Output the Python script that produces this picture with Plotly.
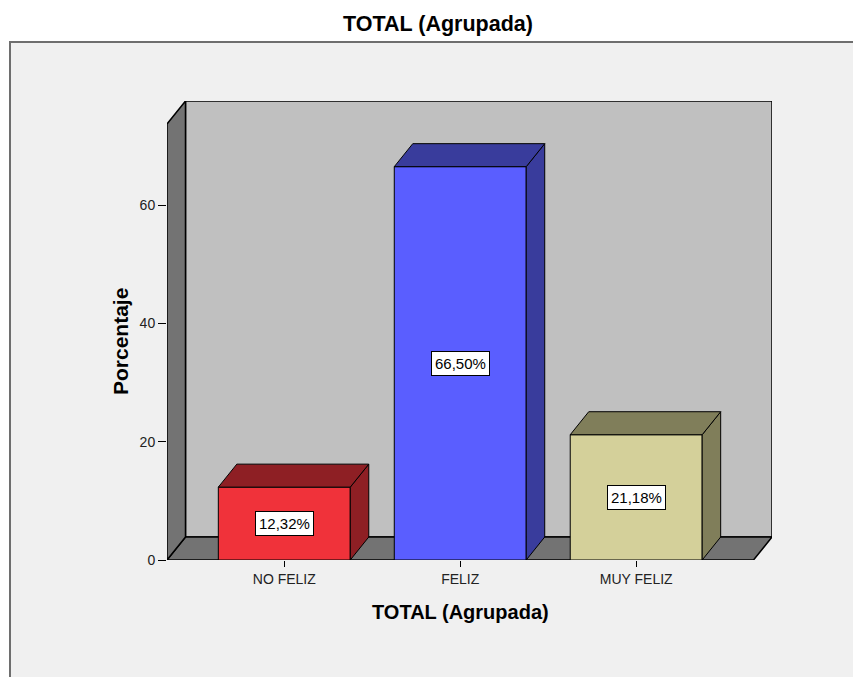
import plotly.graph_objects as go

# ---- data ----
categories = ["NO FELIZ", "FELIZ", "MUY FELIZ"]
percentages = [12.32, 66.50, 21.18]
front_colors = ["#f0323a", "#5a5eff", "#d4d09a"]
shade_colors = ["#8e1f24", "#393c9c", "#807e5a"]
y_ticks = [0, 20, 40, 60]

# ---- geometry of the pseudo-3D box (data units) ----
W, H = 853, 677
ML, MR, MT, MB = 167, 81, 101, 117
PW, PH = W - ML - MR, H - MT - MB

BAR_W = 0.75
X0, X1 = -2 / 3, 8 / 3          # front floor edge
Y_MAX = 77.6                      # top of back wall
DX = 18.5 * (X1 - X0 + 0.105) / PW  # depth offset in x units
DY = 23 * Y_MAX / PH                # depth offset in y units
X_MAX = X1 + DX
WALL_TOP = Y_MAX - DY


def px_x(p):
    return (p - ML) / PW


def px_y(p):
    return (H - MB - p) / PH


def poly_path(pts):
    return "M " + " L ".join(f"{x},{y}" for x, y in pts) + " Z"


fig = go.Figure()

# front faces of the bars
fig.add_trace(go.Bar(
    x=list(range(len(categories))), y=percentages, width=BAR_W,
    marker=dict(color=front_colors, line=dict(color="black", width=1)),
    hoverinfo="skip", showlegend=False,
))

# top and side faces of the bars
for i, v in enumerate(percentages):
    a, b = i - BAR_W / 2, i + BAR_W / 2
    top = [(a, v), (b, v), (b + DX, v + DY), (a + DX, v + DY), (a, v)]
    side = [(b, 0), (b, v), (b + DX, v + DY), (b + DX, DY), (b, 0)]
    for face in (side, top):
        fig.add_trace(go.Scatter(
            x=[p[0] for p in face], y=[p[1] for p in face],
            mode="lines", fill="toself", fillcolor=shade_colors[i],
            line=dict(color="black", width=1), hoverinfo="skip", showlegend=False,
        ))

shapes = [
    # outer chart frame
    dict(type="rect", xref="paper", yref="paper", layer="below",
         x0=px_x(10), x1=px_x(900), y0=px_y(42), y1=px_y(720),
         fillcolor="#f0f0f0", line=dict(color="#6e6e6e", width=2)),
    # back wall
    dict(type="path", xref="x", yref="y", layer="below",
         path=poly_path([(X0 + DX, DY), (X_MAX, DY), (X_MAX, Y_MAX), (X0 + DX, Y_MAX)]),
         fillcolor="#c0c0c0", line=dict(color="black", width=1.5)),
    # floor
    dict(type="path", xref="x", yref="y", layer="below",
         path=poly_path([(X0, 0), (X1, 0), (X_MAX, DY), (X0 + DX, DY)]),
         fillcolor="#737373", line=dict(color="black", width=1.5)),
    # left wall
    dict(type="path", xref="x", yref="y", layer="below",
         path=poly_path([(X0, 0), (X0, WALL_TOP), (X0 + DX, Y_MAX), (X0 + DX, DY)]),
         fillcolor="#737373", line=dict(color="black", width=1.5)),
]

annotations = []
for i, v in enumerate(percentages):
    annotations.append(dict(
        x=i, y=v / 2, xref="x", yref="y", showarrow=False,
        text=f"{v:.2f}".replace(".", ",") + "%",
        font=dict(family="Liberation Sans, Arial", size=15, color="black"),
        bgcolor="white", bordercolor="black", borderwidth=1, borderpad=3,
    ))

annotations += [
    dict(text="<b>TOTAL (Agrupada)</b>", xref="paper", yref="paper",
         x=px_x(438), y=px_y(24), showarrow=False, xanchor="center", yanchor="middle",
         font=dict(family="Liberation Sans, Arial", size=21.5, color="black")),
    dict(text="<b>TOTAL (Agrupada)</b>", xref="x", yref="paper",
         x=1, y=px_y(612), showarrow=False, xanchor="center", yanchor="middle",
         font=dict(family="Liberation Sans, Arial", size=20, color="black")),
    dict(text="<b>Porcentaje</b>", xref="paper", yref="y", textangle=-90,
         x=px_x(120), y=WALL_TOP / 2, showarrow=False, xanchor="center", yanchor="middle",
         font=dict(family="Liberation Sans, Arial", size=21, color="black")),
]

fig.update_layout(
    width=W, height=H,
    margin=dict(l=ML, r=MR, t=MT, b=MB, pad=0),
    paper_bgcolor="white", plot_bgcolor="rgba(0,0,0,0)",
    shapes=shapes, annotations=annotations,
    showlegend=False,
    xaxis=dict(range=[X0, X_MAX], tickvals=list(range(len(categories))), ticktext=categories,
               ticks="outside", ticklen=6, tickcolor="black", tickwidth=1,
               showgrid=False, zeroline=False, showline=False, fixedrange=True,
               tickfont=dict(family="Liberation Sans, Arial", size=14, color="#222")),
    yaxis=dict(range=[0, Y_MAX], tickvals=y_ticks,
               ticks="outside", ticklen=8, tickcolor="black", tickwidth=1,
               showgrid=False, zeroline=False, showline=False, fixedrange=True,
               tickfont=dict(family="Liberation Sans, Arial", size=14, color="#222")),
)

fig.write_html("out.html")
